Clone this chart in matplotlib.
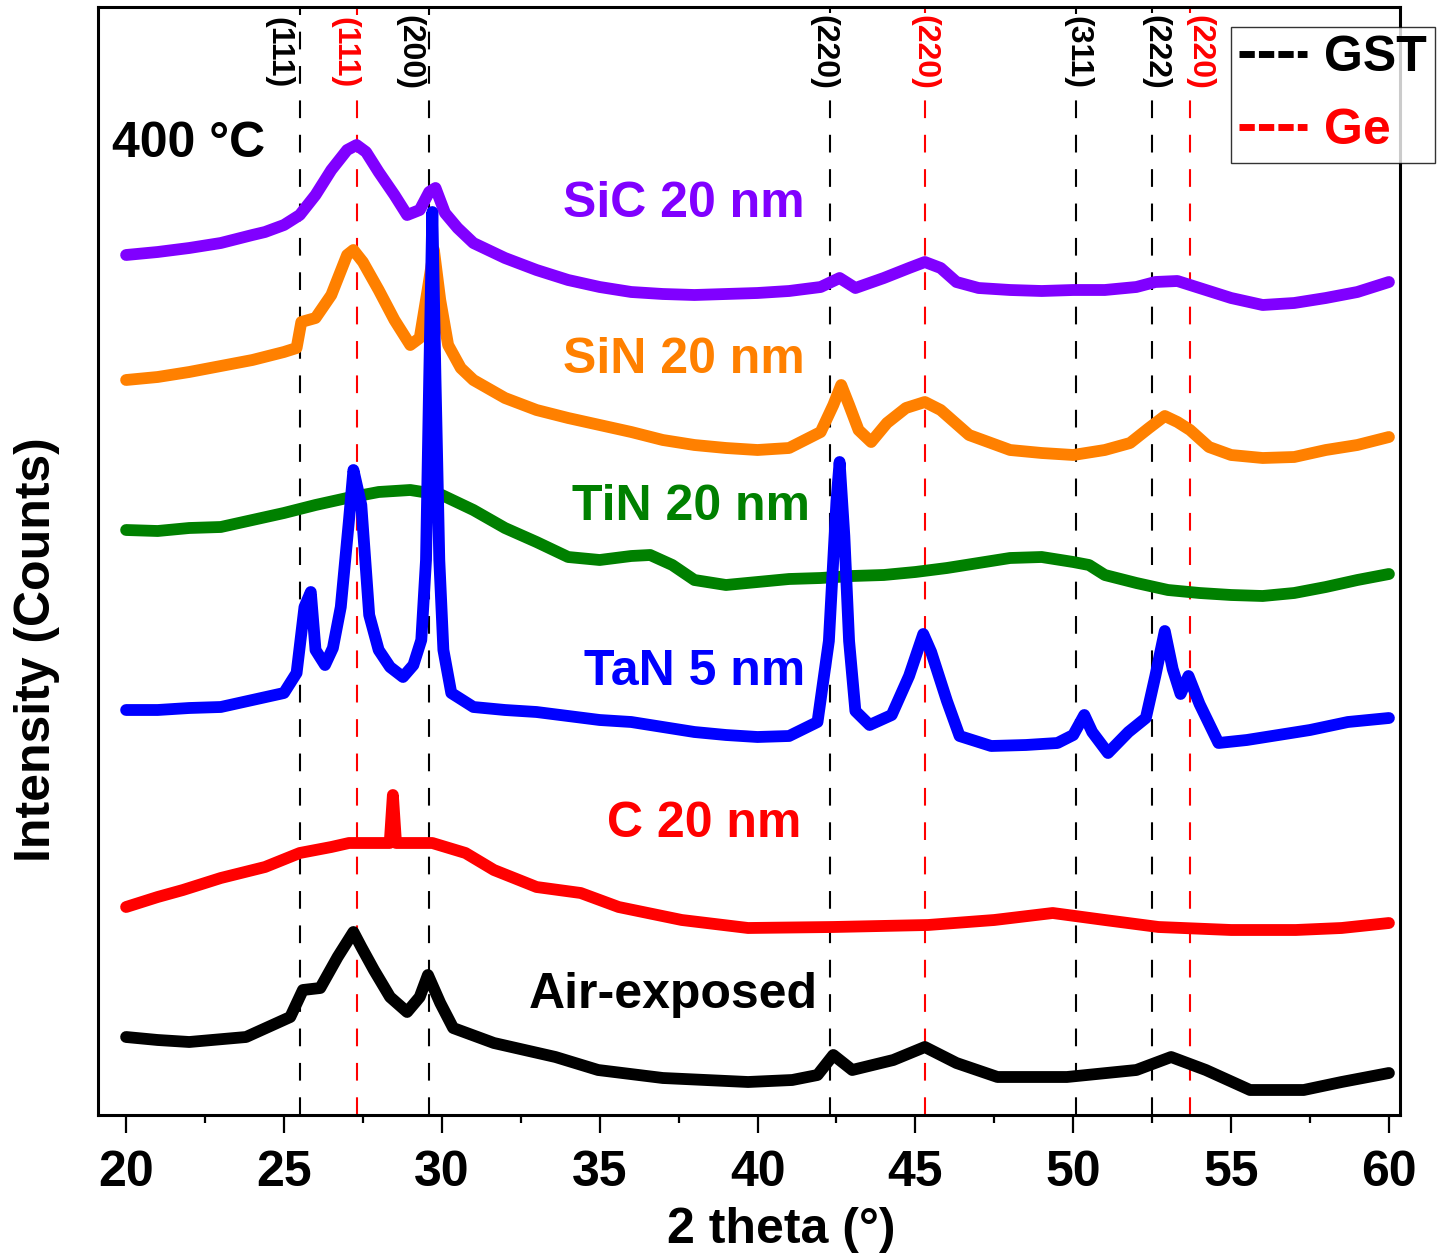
import matplotlib
matplotlib.use("Agg")
import matplotlib.pyplot as plt
from matplotlib.lines import Line2D
import matplotlib.transforms as mtransforms

plt.rcParams['font.family'] = ['Liberation Sans', 'DejaVu Sans']
plt.rcParams['font.weight'] = 'bold'

# ---------------- data (2theta in degrees, intensity in stacked arbitrary counts) ----------------
sic_x = [20, 21, 22, 23, 24, 24.4, 25, 25.5, 26, 26.5, 27, 27.3, 27.6, 28, 28.5, 28.9, 29.3, 29.6, 29.8,
         30.1, 30.5, 31, 32, 33, 34, 35, 36, 37, 38, 39, 40, 41, 42, 42.6, 43.1, 44, 44.8, 45.3, 45.8,
         46.3, 47, 48, 49, 50, 51, 52, 52.6, 53.3, 54, 55, 56, 57, 58, 59, 60]
sic_y = [860, 863, 867, 872, 880, 883, 890, 900, 920, 945, 965, 970, 963, 943, 920, 900, 905, 923, 927,
         902, 887, 872, 857, 845, 835, 828, 823, 821, 820, 821, 822, 824, 828, 837, 827, 837, 847, 853, 847,
         833, 827, 825, 824, 825, 825, 828, 833, 834, 827, 817, 810, 812, 817, 823, 833]

sin_x = [20, 21, 22, 23, 24, 25, 25.4, 25.55, 26, 26.5, 27, 27.2, 27.5, 28, 28.5, 29, 29.3, 29.55, 29.75,
         29.95, 30.2, 30.6, 31, 32, 33, 34, 35, 36, 37, 38, 39, 40, 41, 42, 42.4, 42.65, 42.9, 43.2, 43.6,
         44.1, 44.7, 45.3, 45.8, 46.7, 48, 49, 50, 51, 51.8, 52.4, 52.9, 53.3, 53.7, 54.3, 55, 56, 57, 58,
         59, 60]
sin_y = [735, 738, 743, 749, 755, 763, 767, 793, 797, 820, 860, 865, 853, 825, 795, 770, 777, 825, 865,
         815, 770, 747, 735, 717, 705, 697, 690, 683, 675, 670, 667, 665, 667, 683, 710, 730, 710, 685, 673,
         692, 707, 713, 705, 680, 665, 662, 660, 665, 672, 687, 699, 693, 685, 668, 660, 657, 658, 665,
         670, 678]

tin_x = [20, 21, 22, 23, 24, 25, 26, 27, 28, 29, 30, 31, 32, 33, 34, 35, 36, 36.6, 37.3, 38, 39, 40, 41,
         42, 43, 44, 45, 46, 47, 48, 49, 50, 50.5, 51, 52, 53, 54, 55, 56, 57, 58, 59, 60]
tin_y = [585, 584, 587, 588, 595, 602, 610, 617, 623, 625, 620, 605, 587, 573, 558, 555, 559, 560, 550,
         535, 530, 533, 536, 537, 539, 540, 543, 547, 552, 557, 558, 553, 550, 540, 532, 525, 522, 520,
         519, 522, 528, 535, 541]

tan_x = [20, 21, 22, 23, 24, 25, 25.4, 25.65, 25.85, 26.0, 26.3, 26.55, 26.8, 27.06, 27.2, 27.45, 27.7,
         28.0, 28.36, 28.77, 29.1, 29.35, 29.5, 29.6, 29.7, 29.8, 29.92, 30.05, 30.3, 31, 32, 33, 34, 35,
         36, 37, 38, 39, 40, 41, 41.9, 42.26, 42.5, 42.6, 42.75, 42.9, 43.1, 43.55, 44.25, 44.8, 45.25,
         45.5, 46.0, 46.4, 47.4, 48.5, 49.5, 50.0, 50.35, 50.6, 51.1, 51.75, 52.3, 52.6, 52.9, 53.15,
         53.4, 53.65, 54.0, 54.6, 55.5, 56.5, 57.5, 58.7, 60]
tan_y = [405, 405, 407, 408, 415, 422, 442, 508, 523, 465, 450, 467, 508, 595, 645, 610, 500,
         465, 448, 438, 450, 475, 555, 735, 903, 735, 555, 465, 422, 408, 405, 403, 399, 395,
         393, 388, 383, 380, 378, 379, 393, 474, 614, 653, 579, 474, 404, 390, 400, 439, 481,
         463, 414, 379, 369, 370, 372, 380, 400, 383, 362, 383, 397, 439, 484, 446,
         421, 439, 411, 372, 375, 380, 385, 393, 397]

c_x = [20, 21, 21.8, 23, 24.4, 25.5, 26.5, 27.06, 28, 28.35, 28.45, 28.55, 29.7, 30.75, 31.65, 33.0,
       34.4, 35.6, 37.6, 39.7, 42.4, 45.4, 47.5, 49.35, 51, 52.7, 55, 57.05, 58.5, 60]
c_y = [208, 218, 225, 237, 248, 262, 268, 272, 272, 272, 320, 272, 272, 262, 245, 228,
       222, 208, 195, 187, 188, 190, 195, 202, 195, 188, 185, 185, 187, 192]

air_x = [20, 21, 22, 23.8, 25.2, 25.6, 26.15, 26.7, 27.2, 27.45, 27.85, 28.36, 28.9, 29.3, 29.56, 29.95,
         30.36, 31.65, 33.6, 34.95, 37, 39.7, 41.1, 41.9, 42.4, 43.0, 44.3, 45.3, 46.3, 47.6, 49.8, 52.0,
         53.1, 54.2, 55.6, 57.3, 58.5, 60]
air_y = [78, 75, 73, 78, 98, 125, 127, 158, 183, 168, 145, 118, 103, 118, 140, 112,
         87, 72, 58, 45, 37, 33, 35, 40, 60, 45, 55, 68, 52, 38, 38, 45,
         58, 45, 25, 25, 33, 42]

series_names = ["SiC 20 nm", "SiN 20 nm", "TiN 20 nm", "TaN 5 nm", "C 20 nm", "Air-exposed"]
series_colors = ["#8000FF", "#FF8000", "#008000", "#0000FF", "#FF0000", "#000000"]
series_x = [sic_x, sin_x, tin_x, tan_x, c_x, air_x]
series_y = [sic_y, sin_y, tin_y, tan_y, c_y, air_y]

# reference peak positions
ref_pos = [25.5, 27.3, 29.6, 42.3, 45.3, 50.1, 52.5, 53.7]
ref_lbl = ["(111)", "(111)", "(200)", "(220)", "(220)", "(311)", "(222)", "(220)"]
ref_phase = ["GST", "Ge", "GST", "GST", "Ge", "GST", "GST", "Ge"]
phase_colors = {"GST": "#000000", "Ge": "#FF0000"}

# ---------------- layout ----------------
fig = plt.figure(figsize=(14.47, 12.55), dpi=100)
ax = fig.add_axes([98/1447, 1-1115/1255, 1302/1447, 1108/1255])
ax.set_xlim(19.11, 60.35)
ax.set_ylim(0, 1108)

# reference dashed lines
for p, ph in zip(ref_pos, ref_phase):
    ax.axvline(p, color=phase_colors[ph], lw=1.5, ls=(0, (8.5, 8)), zorder=1)

for xs, ys, col in zip(series_x, series_y, series_colors):
    ax.plot(xs, ys, color=col, lw=8.5, solid_joinstyle='round', solid_capstyle='round', zorder=3)

# sample labels (right aligned)
label_x = [41.5, 41.5, 41.66, 41.5, 41.4, 41.9]
label_y = [898, 742, 595, 430, 278, 107]
for name, col, lx, ly in zip(series_names, series_colors, label_x, label_y):
    ax.text(lx, ly, name, color=col, fontsize=36, fontweight='bold', ha='right', va='baseline', zorder=5)

ax.text(19.56, 958, "400 °C", color='black', fontsize=36, fontweight='bold', ha='left', va='baseline')

# peak index labels
lbl_offsets_px = [-21, -12, -20, -7, 0, 1, 3, 9]
for p, l, ph, off in zip(ref_pos, ref_lbl, ref_phase, lbl_offsets_px):
    tr = mtransforms.blended_transform_factory(ax.transData, ax.transAxes) + \
        mtransforms.ScaledTranslation(off/100, 0, fig.dpi_scale_trans)
    ax.text(p, 0.959, l, transform=tr, rotation=270, fontsize=23, fontweight='bold',
            color=phase_colors[ph], ha='center', va='center', zorder=4,
            bbox=dict(facecolor='white', edgecolor='none', pad=1.5))

# axes styling
for s in ax.spines.values():
    s.set_linewidth(2.2)
ax.set_yticks([])
ax.set_xticks([20, 25, 30, 35, 40, 45, 50, 55, 60])
ax.set_xticks([22.5, 27.5, 32.5, 37.5, 42.5, 47.5, 52.5, 57.5], minor=True)
ax.tick_params(axis='x', which='major', direction='out', length=13, width=1.6, labelsize=36, pad=12)
ax.tick_params(axis='x', which='minor', direction='out', length=6, width=1.6)
for t in ax.get_xticklabels():
    t.set_fontweight('bold')

ax.set_xlabel("2 theta (°)", fontsize=36, fontweight='bold')
ax.xaxis.set_label_coords(0.5246, -0.083)
ax.xaxis.label.set_va('top')
ax.set_ylabel("Intensity (Counts)", fontsize=36, fontweight='bold')
ax.yaxis.set_label_coords(-0.029, 0.42)

# legend
handles = [Line2D([], [], color=phase_colors[k], lw=5, ls=(0, (2.2, 0.6))) for k in ["GST", "Ge"]]
leg = fig.legend(handles, ["GST", "Ge"], loc='upper right', bbox_to_anchor=(1435/1447, 1-27/1255),
                 bbox_transform=fig.transFigure, borderaxespad=0, frameon=True,
                 fancybox=False, handlelength=1.36, handletextpad=0.34, borderpad=0.16,
                 labelspacing=0.55, prop={'weight': 'bold', 'size': 36})
leg.get_frame().set_edgecolor('black')
leg.get_frame().set_linewidth(1.0)
for txt, k in zip(leg.get_texts(), ["GST", "Ge"]):
    txt.set_color(phase_colors[k])

fig.savefig("out.png", dpi=100)
